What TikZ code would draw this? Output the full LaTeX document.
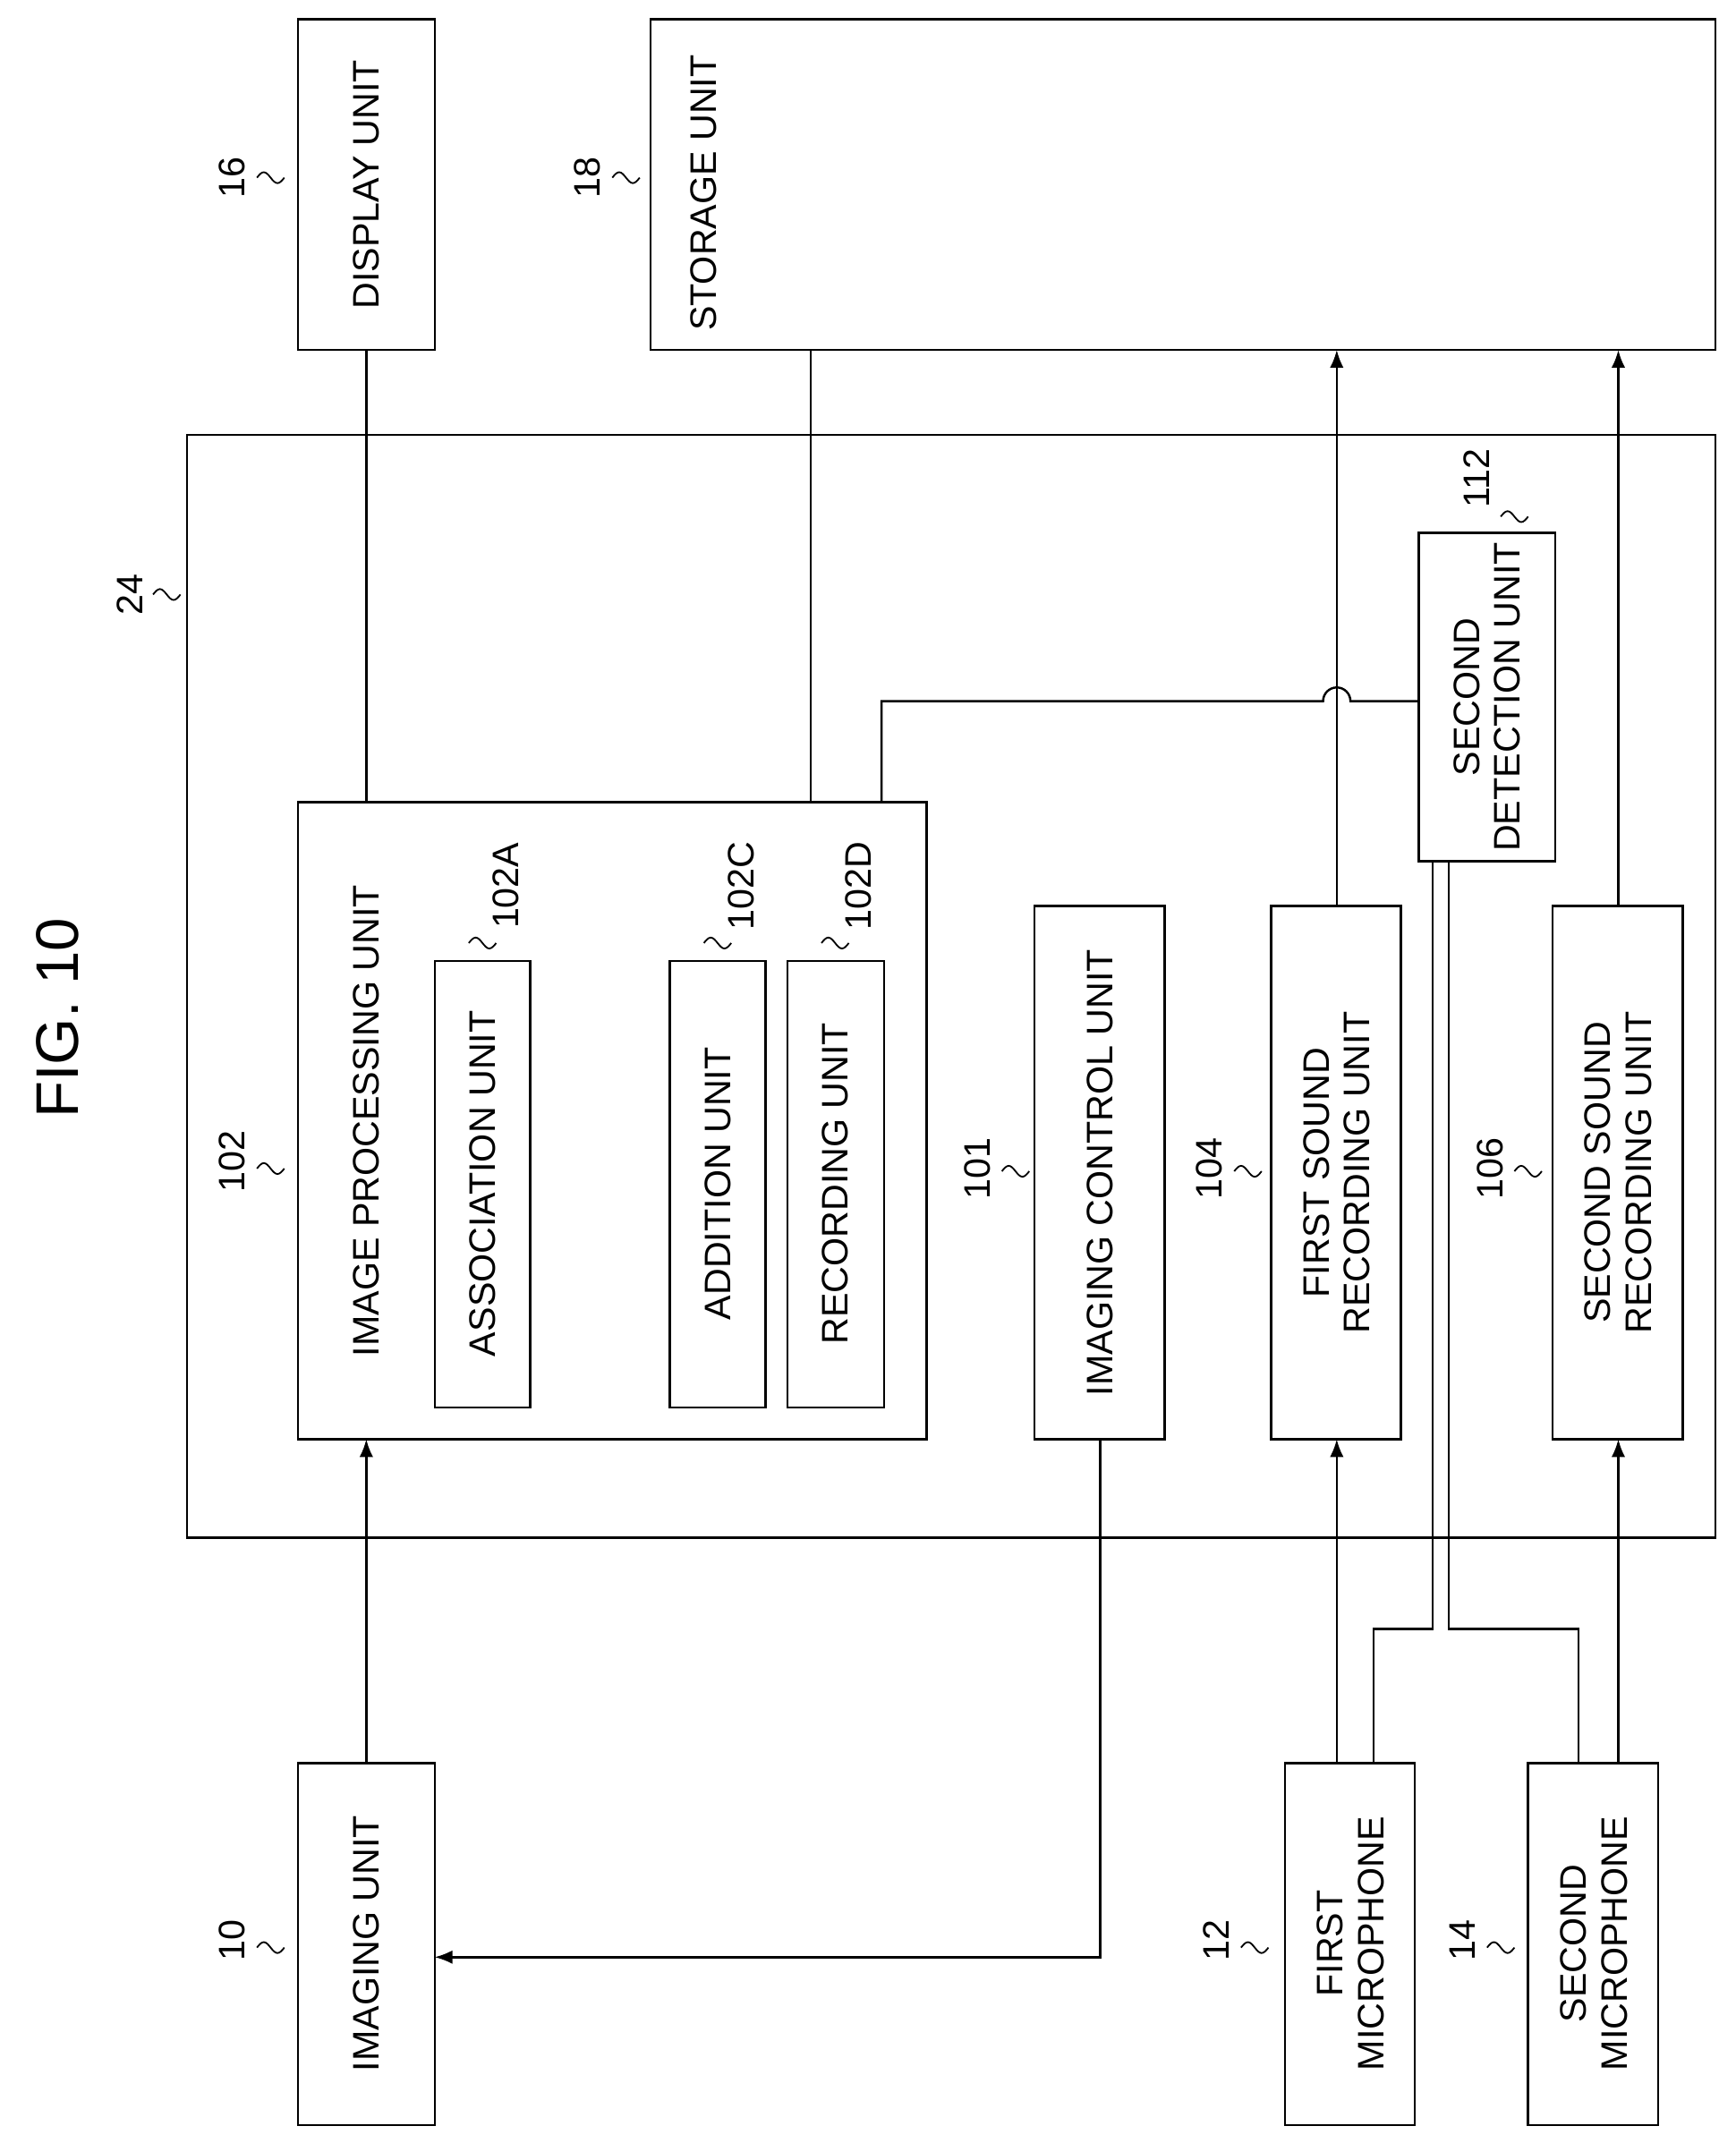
\documentclass[tikz,border=0pt]{standalone}
\usepackage{fontspec}
\setmainfont{Liberation Sans}
\usetikzlibrary{arrows.meta}
\begin{document}
\begin{tikzpicture}[x=1pt,y=-1pt,
 box/.style={draw,line width=1.6pt,rectangle,inner sep=0pt},
 txt/.style={rotate=90,font=\fontsize{27}{30}\selectfont,align=center,inner sep=0pt},
 num/.style={rotate=90,font=\fontsize{27}{30}\selectfont,inner sep=0pt},
 ln/.style={line width=1.6pt},
 arr/.style={line width=1.6pt,-{Latex[length=13pt,width=10pt]}}]
\useasboundingbox (0,0) rectangle (1270,1568);
\newcommand\tld[1]{\draw[line width=1.2pt] (#1) sin ++(5,-4) cos ++(5,4) sin ++(5,4) cos ++(5,-4);}
\node[rotate=90,font=\fontsize{44}{48}\selectfont] (fig) at (42,745) {FIG. 10};
% boxes
\draw[box] (137,318) rectangle (1255,1125);
\node[num] (n24) at (95,435) {24}; \tld{112,435}
\draw[box] (218,14) rectangle (318,256); \node[txt] (disp) at (268,135) {DISPLAY UNIT};
\node[num] (n16) at (170,130) {16}; \tld{188,130}
\draw[box] (476,14) rectangle (1255,256); \node[txt,anchor=east] (stor) at (515,40) {STORAGE UNIT};
\node[num] (n18) at (430,130) {18}; \tld{448,130}
\draw[box] (218,587) rectangle (678,1053); \node[txt] (ipu) at (268,820) {IMAGE PROCESSING UNIT};
\node[num] (n102) at (170,850) {102}; \tld{188,855}
\draw[box] (318,703) rectangle (388,1030); \node[txt] (assoc) at (353,866) {ASSOCIATION UNIT};
\node[num] (na) at (370,648) {102A}; \tld{343,690}
\draw[box] (490,703) rectangle (560,1030); \node[txt] (add) at (525,866) {ADDITION UNIT};
\node[num] (nc) at (542,648) {102C}; \tld{515,690}
\draw[box] (576,703) rectangle (647,1030); \node[txt] (rec) at (611,866) {RECORDING UNIT};
\node[num] (nd) at (628,648) {102D}; \tld{601,690}
\draw[box] (757,663) rectangle (852,1053); \node[txt] (icu) at (805,858) {IMAGING CONTROL UNIT};
\node[num] (n101) at (715,855) {101}; \tld{733,857}
\draw[box] (930,663) rectangle (1025,1053); \node[txt] (fsr) at (978,858) {FIRST SOUND\\RECORDING UNIT};
\node[num] (n104) at (885,855) {104}; \tld{903,857}
\draw[box] (1136,663) rectangle (1231,1053); \node[txt] (ssr) at (1184,858) {SECOND SOUND\\RECORDING UNIT};
\node[num] (n106) at (1090,855) {106}; \tld{1108,857}
\draw[box] (1038,390) rectangle (1138,630); \node[txt] (det) at (1088,510) {SECOND\\DETECTION UNIT};
\node[num] (n112) at (1080,350) {112}; \tld{1098,378}
\draw[box] (218,1290) rectangle (318,1555); \node[txt] (img) at (268,1422) {IMAGING UNIT};
\node[num] (n10) at (170,1420) {10}; \tld{188,1425}
\draw[box] (940,1290) rectangle (1035,1555); \node[txt] (m1) at (988,1422) {FIRST\\MICROPHONE};
\node[num] (n12) at (890,1420) {12}; \tld{908,1425}
\draw[box] (1118,1290) rectangle (1213,1555); \node[txt] (m2) at (1166,1422) {SECOND\\MICROPHONE};
\node[num] (n14) at (1070,1420) {14}; \tld{1088,1425}
% connectors
\draw[ln] (268,256) -- (268,587);
\draw[ln] (593,256) -- (593,587);
\draw[ln] (645,587) -- (645,513) -- (968,513) arc (180:360:10) -- (1038,513);
\draw[arr] (978,663) -- (978,256);
\draw[arr] (1184,663) -- (1184,256);
\draw[arr] (268,1290) -- (268,1053);
\draw[arr] (805,1053) -- (805,1432) -- (318,1432);
\draw[arr] (978,1290) -- (978,1053);
\draw[arr] (1184,1290) -- (1184,1053);
\draw[ln] (1005,1290) -- (1005,1192) -- (1048,1192) -- (1048,630);
\draw[ln] (1155,1290) -- (1155,1192) -- (1060,1192) -- (1060,630);
\end{tikzpicture}
\end{document}
